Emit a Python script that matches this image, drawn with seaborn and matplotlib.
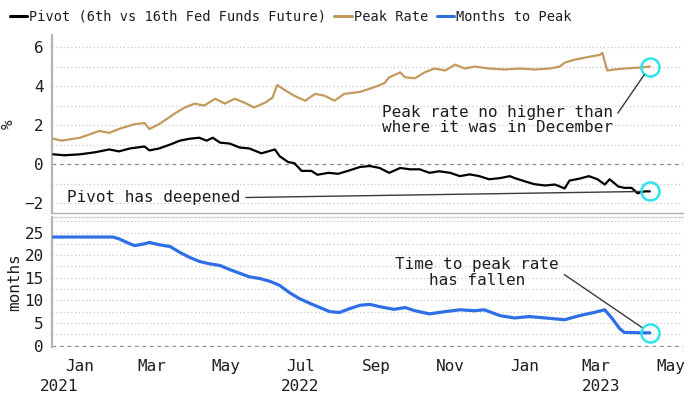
import matplotlib
matplotlib.use("Agg")
import matplotlib.pyplot as plt
import matplotlib.dates as mdates
from matplotlib.transforms import blended_transform_factory
from matplotlib.lines import Line2D
import pandas as pd
import seaborn as sns

# ---------------- data ----------------
pk_dates = ["2021-12-10","2021-12-17","2022-01-01","2022-01-17","2022-01-25","2022-02-02","2022-02-15","2022-02-23",
            "2022-02-27","2022-03-07","2022-03-20","2022-03-28","2022-04-05","2022-04-13","2022-04-22","2022-04-30",
            "2022-05-08","2022-05-16","2022-05-24","2022-06-02","2022-06-08","2022-06-12","2022-06-18","2022-06-26",
            "2022-07-05","2022-07-13","2022-07-21","2022-07-29","2022-08-06","2022-08-19","2022-08-31","2022-09-08",
            "2022-09-12","2022-09-21","2022-09-25","2022-10-03","2022-10-11","2022-10-19","2022-10-28","2022-11-05",
            "2022-11-13","2022-11-21","2022-12-03","2022-12-16","2022-12-28","2023-01-09","2023-01-22","2023-01-30",
            "2023-02-03","2023-02-11","2023-02-23","2023-03-04","2023-03-06","2023-03-10","2023-03-16","2023-03-24",
            "2023-04-06","2023-04-14"]
pk_vals = [1.3,1.2,1.35,1.7,1.6,1.8,2.05,2.1,1.8,2.05,2.6,2.9,3.1,3.0,3.35,3.1,3.35,3.15,2.9,3.15,3.4,4.05,3.8,3.5,
           3.25,3.6,3.5,3.25,3.6,3.7,3.95,4.15,4.45,4.7,4.45,4.4,4.7,4.9,4.8,5.1,4.9,5.0,4.9,4.85,4.9,4.85,4.9,5.0,
           5.2,5.35,5.5,5.6,5.7,4.8,4.85,4.9,4.95,5.0]

pv_dates = ["2021-12-10","2021-12-19","2022-01-01","2022-01-13","2022-01-25","2022-02-02","2022-02-11","2022-02-23",
            "2022-02-27","2022-03-07","2022-03-16","2022-03-24","2022-04-01","2022-04-09","2022-04-15","2022-04-20",
            "2022-04-26","2022-05-04","2022-05-12","2022-05-20","2022-05-30","2022-06-10","2022-06-14","2022-06-21",
            "2022-06-26","2022-07-02","2022-07-10","2022-07-15","2022-07-24","2022-08-01","2022-08-09","2022-08-19",
            "2022-08-27","2022-09-04","2022-09-12","2022-09-21","2022-09-29","2022-10-07","2022-10-15","2022-10-23",
            "2022-11-01","2022-11-09","2022-11-17","2022-11-25","2022-12-03","2022-12-12","2022-12-20","2022-12-24",
            "2023-01-01","2023-01-09","2023-01-18","2023-01-26","2023-02-03","2023-02-07","2023-02-15","2023-02-23",
            "2023-03-02","2023-03-08","2023-03-12","2023-03-19","2023-03-24","2023-03-30","2023-04-04","2023-04-10",
            "2023-04-14"]
pv_vals = [0.5,0.45,0.5,0.6,0.75,0.65,0.8,0.9,0.7,0.8,1.0,1.2,1.3,1.35,1.2,1.35,1.1,1.05,0.85,0.8,0.55,0.75,0.4,0.1,
           0.05,-0.35,-0.35,-0.55,-0.45,-0.5,-0.35,-0.15,-0.1,-0.2,-0.45,-0.2,-0.27,-0.27,-0.45,-0.37,-0.45,-0.62,
           -0.53,-0.62,-0.78,-0.72,-0.62,-0.72,-0.88,-1.03,-1.1,-1.05,-1.25,-0.85,-0.75,-0.62,-0.78,-1.05,-0.78,
           -1.15,-1.22,-1.22,-1.5,-1.4,-1.4]

mo_dates = ["2021-12-10","2022-01-28","2022-02-02","2022-02-11","2022-02-15","2022-02-23","2022-02-27","2022-03-07",
            "2022-03-16","2022-03-24","2022-04-01","2022-04-09","2022-04-17","2022-04-26","2022-05-04","2022-05-12",
            "2022-05-20","2022-05-29","2022-06-06","2022-06-14","2022-06-22","2022-06-30","2022-07-09","2022-07-17",
            "2022-07-25","2022-08-02","2022-08-11","2022-08-19","2022-08-27","2022-09-04","2022-09-16","2022-09-25",
            "2022-10-03","2022-10-15","2022-10-28","2022-11-09","2022-11-21","2022-11-29","2022-12-12","2022-12-24",
            "2023-01-05","2023-01-18","2023-02-03","2023-02-15","2023-02-27","2023-03-08","2023-03-14","2023-03-20",
            "2023-03-24","2023-04-10","2023-04-14"]
mo_vals = [24,24,23.6,22.5,22.1,22.5,22.8,22.3,21.9,20.6,19.5,18.6,18.1,17.7,16.8,16.0,15.2,14.8,14.2,13.3,11.7,10.4,
           9.3,8.4,7.5,7.3,8.2,8.9,9.1,8.6,8.0,8.4,7.7,7.0,7.5,7.9,7.7,7.9,6.6,6.1,6.4,6.1,5.7,6.6,7.3,7.9,6.0,3.8,
           2.9,2.8,2.8]

series_names = ["Pivot (6th vs 16th Fed Funds Future)", "Peak Rate", "Months to Peak"]
month_ticks = ["2022-01-01","2022-03-01","2022-05-01","2022-07-01","2022-09-01","2022-11-01",
               "2023-01-01","2023-03-01","2023-05-01"]
month_labels = ["Jan","Mar","May","Jul","Sep","Nov","Jan","Mar","May"]
year_labels = ["2021","2022","2023"]
year_pos = ["2021-12-15","2022-07-01","2023-03-05"]

# ---------------- style ----------------
sns.set_style("white")
plt.rcParams['font.family'] = ['DejaVu Sans Mono', 'DejaVu Sans']
TXT = "#1e1e1e"
C_PIV, C_PK, C_MO = "#000000", "#c39a5e", "#2f6fe6"
CYAN = "#31e3ec"

pk = pd.DataFrame({"date": pd.to_datetime(pk_dates), "v": pk_vals})
pv = pd.DataFrame({"date": pd.to_datetime(pv_dates), "v": pv_vals})
mo = pd.DataFrame({"date": pd.to_datetime(mo_dates), "v": mo_vals})

fig = plt.figure(figsize=(7.0, 3.94), dpi=100)
ax1 = fig.add_axes([0.0743, 0.4594, 0.901, 0.4518])
ax2 = fig.add_axes([0.0743, 0.1193, 0.901, 0.3299], sharex=ax1)

xmin, xmax = pd.Timestamp("2021-12-09"), pd.Timestamp("2023-05-11")

# grids
for y in [-2, -1, 1, 2, 3, 4, 5, 6]:
    ax1.axhline(y, color="#c9c9c9", lw=0.9, ls=(0, (1, 2)), zorder=0)
ax1.axhline(0, color="#8a8a8a", lw=0.9, ls=(0, (3, 3)), zorder=0)
for y in [2.5, 5, 7.5, 10, 12.5, 15, 17.5, 20, 22.5, 25, 27.5]:
    ax2.axhline(y, color="#c9c9c9", lw=0.9, ls=(0, (1, 2)), zorder=0)
ax2.axhline(0, color="#8a8a8a", lw=0.9, ls=(0, (3, 3)), zorder=1)

sns.lineplot(data=pk, x="date", y="v", ax=ax1, color=C_PK, lw=1.6, zorder=3)
sns.lineplot(data=pv, x="date", y="v", ax=ax1, color=C_PIV, lw=1.6, zorder=3)
sns.lineplot(data=mo, x="date", y="v", ax=ax2, color=C_MO, lw=2.3, zorder=3)

# highlight circles at the last points
for ax, df in [(ax1, pk), (ax1, pv), (ax2, mo)]:
    ax.plot(df["date"].iloc[-1], df["v"].iloc[-1], marker="o", ms=13, mfc="none",
            mec=CYAN, mew=1.8, zorder=5)

ax1.set_xlim(xmin, xmax)
ax1.set_ylim(-2.51, 6.62)
ax2.set_ylim(-0.33, 28.43)

ax1.set_yticks([-2, 0, 2, 4, 6])
ax2.set_yticks([0, 5, 10, 15, 20, 25])
ax1.set_xlabel(""); ax2.set_xlabel("")
ax1.set_ylabel("%", fontsize=11.5, color=TXT, labelpad=6)
ax2.set_ylabel("months", fontsize=11.5, color=TXT, labelpad=2)

ax2.set_xticks(pd.to_datetime(month_ticks))
ax2.set_xticklabels(month_labels)
ax1.tick_params(axis="x", which="both", bottom=False, labelbottom=False)
ax2.tick_params(axis="x", length=4, width=1, color="#9a9a9a", labelsize=11.5, labelcolor=TXT, pad=5)
for ax in (ax1, ax2):
    ax.tick_params(axis="y", length=0, labelsize=11.5, labelcolor=TXT, pad=6)
    for s in ["top", "right"]:
        ax.spines[s].set_visible(False)
    ax.spines["left"].set_color("#b5b5b5")
    ax.spines["left"].set_linewidth(1.6)
ax1.spines["bottom"].set_color("#b0b0b0")
ax1.spines["bottom"].set_linewidth(1.0)
ax2.spines["bottom"].set_visible(False)
ax2.spines["top"].set_visible(True)
ax2.spines["top"].set_color("#d5d5d5")
ax2.spines["top"].set_linewidth(1.0)

# year labels
tr = blended_transform_factory(ax2.transData, ax2.transAxes)
for lab, pos in zip(year_labels, year_pos):
    ax2.text(pd.Timestamp(pos), -0.305, lab, transform=tr, ha="center", va="center",
             fontsize=11.5, color=TXT)

# annotations
akw = dict(arrowstyle="-", color="#3a3a3a", lw=1.0, shrinkA=2, shrinkB=7)
ax1.annotate("Peak rate no higher than\nwhere it was in December",
             xy=(pk["date"].iloc[-1], pk["v"].iloc[-1]), xytext=(pd.Timestamp("2022-09-06"), 2.25),
             ha="left", va="center", fontsize=11.5, color=TXT, linespacing=1.05,
             arrowprops=dict(relpos=(1, 0.5), **akw), zorder=6)
ax1.annotate("Pivot has deepened",
             xy=(pv["date"].iloc[-1], pv["v"].iloc[-1]), xytext=(pd.Timestamp("2021-12-21"), -1.72),
             ha="left", va="center", fontsize=11.5, color=TXT,
             arrowprops=dict(relpos=(1, 0.5), **akw), zorder=6)
ax2.annotate("Time to peak rate\nhas fallen",
             xy=(mo["date"].iloc[-1], mo["v"].iloc[-1]), xytext=(pd.Timestamp("2022-11-23"), 16.2),
             ha="center", va="center", fontsize=11.5, color=TXT, linespacing=1.05,
             multialignment="center",
             arrowprops=dict(relpos=(1, 0.55), **akw), zorder=6)

# legend
handles = [Line2D([], [], color=c, lw=2.2) for c in (C_PIV, C_PK, C_MO)]
fig.legend(handles, series_names, loc="upper left", bbox_to_anchor=(0.0, 1.0), ncol=3,
           frameon=False, fontsize=9.8, handlelength=1.3, handletextpad=0.15, columnspacing=0.6,
           borderaxespad=0.3, labelcolor=TXT)

fig.savefig("out.png", dpi=100)
